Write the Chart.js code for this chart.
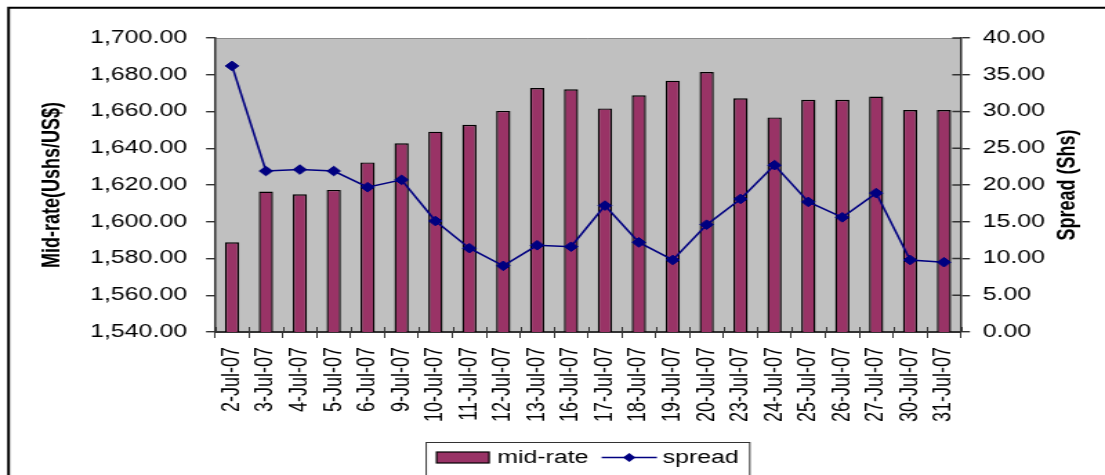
<!DOCTYPE html>
<html>
<head>
<meta charset="utf-8">
<title>Mid-rate and spread, July 2007</title>
<script src="https://cdn.jsdelivr.net/npm/chart.js@4.4.1/dist/chart.umd.min.js"></script>
<style>
  html, body { margin: 0; padding: 0; background: #ffffff; overflow: hidden; }
  #c { display: block; }
</style>
</head>
<body>
<canvas id="c" width="800" height="475" style="width:1105px;height:475px;display:block"></canvas>
<script>
// Trading days of July 2007
const categories = [
  '2-Jul-07', '3-Jul-07', '4-Jul-07', '5-Jul-07', '6-Jul-07', '9-Jul-07',
  '10-Jul-07', '11-Jul-07', '12-Jul-07', '13-Jul-07', '16-Jul-07', '17-Jul-07',
  '18-Jul-07', '19-Jul-07', '20-Jul-07', '23-Jul-07', '24-Jul-07', '25-Jul-07',
  '26-Jul-07', '27-Jul-07', '30-Jul-07', '31-Jul-07'
];

// Mid-rate, Ushs per US$
const midRate = [
  1588.8, 1616.4, 1614.9, 1617.3, 1632.3, 1642.7,
  1649.0, 1652.8, 1660.3, 1672.8, 1672.1, 1661.7,
  1668.8, 1676.8, 1681.5, 1667.2, 1656.8, 1666.4,
  1666.4, 1668.1, 1660.8, 1660.8
];

// Bid/offer spread, Shs
const spread = [
  36.2, 21.9, 22.1, 21.9, 19.7, 20.7,
  15.1, 11.4, 9.0, 11.8, 11.6, 17.2,
  12.2, 9.8, 14.6, 18.1, 22.7, 17.7,
  15.6, 18.9, 9.8, 9.5
];

// Axis ranges and tick steps
const midRateAxis = { min: 1540, max: 1700, step: 20 };
const spreadAxis = { min: 0, max: 40, step: 5 };

const seriesNames = ['mid-rate', 'spread'];
const axisTitles = ['Mid-rate(Ushs/US$)', 'Spread (Shs)'];

const FONT = "'Liberation Sans', Arial, sans-serif";
const BAR_COLOR = '#993366';
const LINE_COLOR = '#000080';
const PLOT_BG = '#c0c0c0';
const AXIS_COLOR = '#333333';

const fmt2 = v => Number(v).toLocaleString('en-US', { minimumFractionDigits: 2, maximumFractionDigits: 2 });

// Grey plot area, white page and the outer frame
const backgroundPlugin = {
  id: 'backgroundPlugin',
  beforeDraw(chart) {
    const { ctx, chartArea: a } = chart;
    ctx.save();
    ctx.fillStyle = '#ffffff';
    ctx.fillRect(0, 0, chart.width, chart.height);
    ctx.fillStyle = PLOT_BG;
    ctx.fillRect(a.left, a.top, a.right - a.left, a.bottom - a.top);
    ctx.strokeStyle = '#8a8a8a';
    ctx.lineWidth = 1;
    ctx.beginPath();
    ctx.moveTo(a.left, a.top + 0.5);
    ctx.lineTo(a.right, a.top + 0.5);
    ctx.stroke();
    ctx.restore();
  },
  afterDraw(chart) {
    const { ctx } = chart;
    ctx.save();
    ctx.strokeStyle = '#000000';
    ctx.lineWidth = 2;
    ctx.beginPath();
    ctx.moveTo(6.2, chart.height);
    ctx.lineTo(6.2, 7.7);
    ctx.lineTo(chart.width, 7.7);
    ctx.stroke();
    ctx.restore();
  }
};

// Inner halves of the crossing tick marks on the category and right axes
const crossTicksPlugin = {
  id: 'crossTicksPlugin',
  afterDatasetsDraw(chart) {
    const { ctx } = chart;
    const xs = chart.scales.x;
    const ys = chart.scales.y1;
    ctx.save();
    ctx.strokeStyle = AXIS_COLOR;
    ctx.lineWidth = 1;
    ctx.beginPath();
    for (let i = 0; i <= categories.length; i++) {
      const px = i < categories.length
        ? xs.getPixelForTick(i) - (xs.getPixelForTick(1) - xs.getPixelForTick(0)) / 2
        : xs.right;
      ctx.moveTo(Math.round(px) + 0.5, xs.top);
      ctx.lineTo(Math.round(px) + 0.5, xs.top - 5);
    }
    ctx.stroke();
    ctx.lineWidth = 1.4;
    ctx.beginPath();
    ys.ticks.forEach(t => {
      const py = ys.getPixelForValue(t.value);
      ctx.moveTo(ys.left, py);
      ctx.lineTo(ys.left - 6.3, py);
    });
    ctx.stroke();
    ctx.restore();
  }
};

// Right-hand axis title, reading bottom to top
const rightTitlePlugin = {
  id: 'rightTitlePlugin',
  afterDraw(chart) {
    const { ctx, chartArea: a } = chart;
    ctx.save();
    ctx.translate(a.right + 77.5, (a.top + a.bottom) / 2);
    ctx.rotate(-Math.PI / 2);
    ctx.font = 'bold 18px ' + FONT;
    ctx.fillStyle = '#000000';
    ctx.textAlign = 'center';
    ctx.textBaseline = 'middle';
    ctx.fillText(axisTitles[1], 0, 0);
    ctx.restore();
  }
};

// Boxed legend under the category labels
const boxedLegendPlugin = {
  id: 'boxedLegendPlugin',
  afterDraw(chart) {
    const { ctx, chartArea: a } = chart;
    ctx.save();
    ctx.font = '18px ' + FONT;
    const w1 = ctx.measureText(seriesNames[0]).width;
    const w2 = ctx.measureText(seriesNames[1]).width;
    const padL = 7.5, sw = 38, gap1 = 6, gap2 = 9.5, lineLen = 40, gap3 = 4.2, padR = 8;
    const total = padL + sw + gap1 + w1 + gap2 + lineLen + gap3 + w2 + padR;
    const left = (a.left + a.right) / 2 - total / 2;
    const top = 442.5;
    const cy = 457.5;

    ctx.strokeStyle = '#333333';
    ctx.lineWidth = 1;
    ctx.strokeRect(left, top, total, 60);

    let x = left + padL;
    ctx.fillStyle = BAR_COLOR;
    ctx.fillRect(x, cy - 5.5, sw, 11);
    ctx.strokeStyle = '#000000';
    ctx.lineWidth = 1.2;
    ctx.strokeRect(x, cy - 5.5, sw, 11);
    x += sw + gap1;

    ctx.fillStyle = '#000000';
    ctx.textAlign = 'left';
    ctx.textBaseline = 'middle';
    ctx.fillText(seriesNames[0], x, cy + 1);
    x += w1 + gap2;

    ctx.strokeStyle = LINE_COLOR;
    ctx.lineWidth = 1.5;
    ctx.beginPath();
    ctx.moveTo(x, cy);
    ctx.lineTo(x + lineLen, cy);
    ctx.stroke();
    const mx = x + lineLen / 2;
    ctx.fillStyle = LINE_COLOR;
    ctx.beginPath();
    ctx.moveTo(mx, cy - 4.5);
    ctx.lineTo(mx + 4.5, cy);
    ctx.lineTo(mx, cy + 4.5);
    ctx.lineTo(mx - 4.5, cy);
    ctx.closePath();
    ctx.fill();
    x += lineLen + gap3;

    ctx.fillStyle = '#000000';
    ctx.fillText(seriesNames[1], x, cy + 1);
    ctx.restore();
  }
};

Chart.defaults.font.family = FONT;
Chart.defaults.font.size = 18;
Chart.defaults.color = '#000000';

const canvas = document.getElementById('c');
const chart = new Chart(canvas, {
  data: {
    labels: categories,
    datasets: [
      {
        type: 'line',
        label: seriesNames[1],
        data: spread,
        yAxisID: 'y1',
        order: 0,
        borderColor: LINE_COLOR,
        backgroundColor: LINE_COLOR,
        borderWidth: 1.6,
        pointStyle: 'rectRot',
        pointRadius: 4.8,
        pointBackgroundColor: LINE_COLOR,
        pointBorderColor: LINE_COLOR,
        pointBorderWidth: 1,
        tension: 0,
        fill: false
      },
      {
        type: 'bar',
        label: seriesNames[0],
        data: midRate,
        yAxisID: 'y',
        order: 1,
        backgroundColor: BAR_COLOR,
        borderColor: '#000000',
        borderWidth: 1.4,
        borderSkipped: 'start',
        categoryPercentage: 1,
        barPercentage: 0.42
      }
    ]
  },
  options: {
    responsive: false,
    devicePixelRatio: 1,
    animation: false,
    layout: { padding: { top: 38, bottom: 43, left: 0, right: 0 } },
    plugins: {
      legend: { display: false },
      tooltip: { enabled: false },
      title: { display: false }
    },
    scales: {
      x: {
        type: 'category',
        position: 'bottom',
        offset: true,
        grid: {
          offset: true,
          display: true,
          drawOnChartArea: false,
          drawTicks: true,
          tickLength: 6,
          color: AXIS_COLOR,
          lineWidth: 1
        },
        border: { display: true, color: AXIS_COLOR, width: 2 },
        ticks: {
          autoSkip: false,
          minRotation: 90,
          maxRotation: 90,
          padding: 9,
          font: { size: 18, family: FONT },
          color: '#000000'
        },
        afterFit(scale) { scale.height = 100; }
      },
      y: {
        type: 'linear',
        position: 'left',
        min: midRateAxis.min,
        max: midRateAxis.max,
        grid: {
          display: true,
          drawOnChartArea: false,
          drawTicks: true,
          tickLength: 6.5,
          color: AXIS_COLOR,
          lineWidth: 1.4
        },
        border: { display: true, color: AXIS_COLOR, width: 1.5 },
        ticks: {
          stepSize: midRateAxis.step,
          padding: 13.8,
          font: { size: 18, family: FONT },
          color: '#000000',
          callback: v => fmt2(v)
        },
        title: {
          display: true,
          text: axisTitles[0],
          font: { size: 18, weight: 'bold', family: FONT },
          color: '#000000',
          padding: { top: 27, bottom: 0 }
        },
        afterFit(scale) { scale.width = 155.7; }
      },
      y1: {
        type: 'linear',
        position: 'right',
        min: spreadAxis.min,
        max: spreadAxis.max,
        grid: {
          display: true,
          drawOnChartArea: false,
          drawTicks: true,
          tickLength: 6.5,
          color: AXIS_COLOR,
          lineWidth: 1.4
        },
        border: { display: true, color: AXIS_COLOR, width: 1.5 },
        ticks: {
          stepSize: spreadAxis.step,
          padding: 9.3,
          font: { size: 18, family: FONT },
          color: '#000000',
          callback: v => fmt2(v)
        },
        afterFit(scale) { scale.width = 800 - 695.7; }
      }
    }
  },
  plugins: [backgroundPlugin, crossTicksPlugin, rightTitlePlugin, boxedLegendPlugin]
});

// The drawing buffer is 800 px wide and shown 1105 px wide
canvas.style.width = '1105px';
canvas.style.height = '475px';
</script>
</body>
</html>
